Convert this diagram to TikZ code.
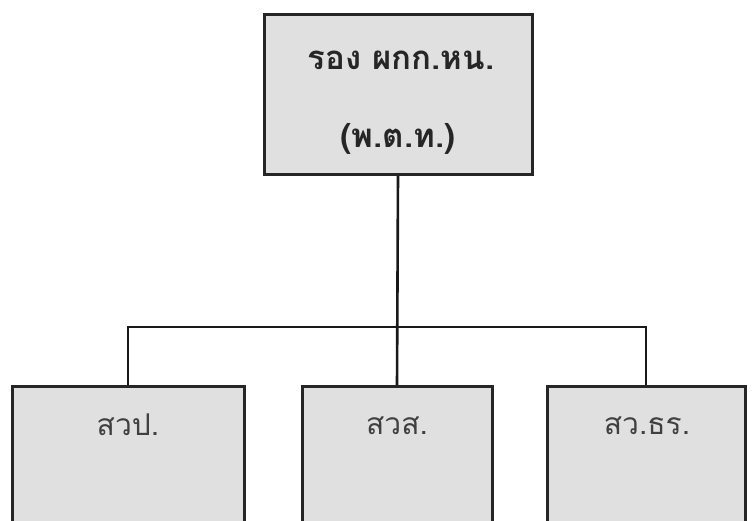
\documentclass[tikz,border=0pt]{standalone}
\usepackage{fontspec}
\newfontfamily\thaifont[Script=Thai]{Loma}
\begin{document}
\begin{tikzpicture}[x=1pt,y=-1pt,
  box/.style={draw=black!85, line width=3pt, fill=black!12, rectangle, inner sep=0pt, anchor=north},
  conn/.style={draw=black!90, line width=2.6pt},
  toplbl/.style={font=\thaifont\bfseries\fontsize{33}{33}\selectfont, text=black!85, inner sep=0pt},
  botlbl/.style={font=\thaifont\fontsize{30}{30}\selectfont, text=black!75, inner sep=0pt}]
\useasboundingbox (0,0) rectangle (754,520);
\clip (0,0) rectangle (754,520);
\fill[white] (0,0) rectangle (754,520);
\node[box, minimum width=268pt, minimum height=160pt] (top) at (398,13) {};
\node[box, minimum width=232pt, minimum height=160pt] (l) at (128,385) {};
\node[box, minimum width=190pt, minimum height=160pt] (m) at (397,385) {};
\node[box, minimum width=198pt, minimum height=160pt] (r) at (646,385) {};
\coordinate (hl) at (128,327);
\coordinate (hr) at (646,327);
\draw[conn] (top.south) -- (m.north);
\draw[conn] (l.north) -- (hl) -- (hr) -- (r.north);
\node[toplbl] (t1) at (401,60) {รอง ผกก.หน.};
\node[toplbl] (t2) at (398,139) {(พ.ต.ท.)};
\node[botlbl] (a) at (128,425) {สวป.};
\node[botlbl] (b) at (397,426) {สวส.};
\node[botlbl] (c) at (647,426) {สว.ธร.};
\end{tikzpicture}
\end{document}
